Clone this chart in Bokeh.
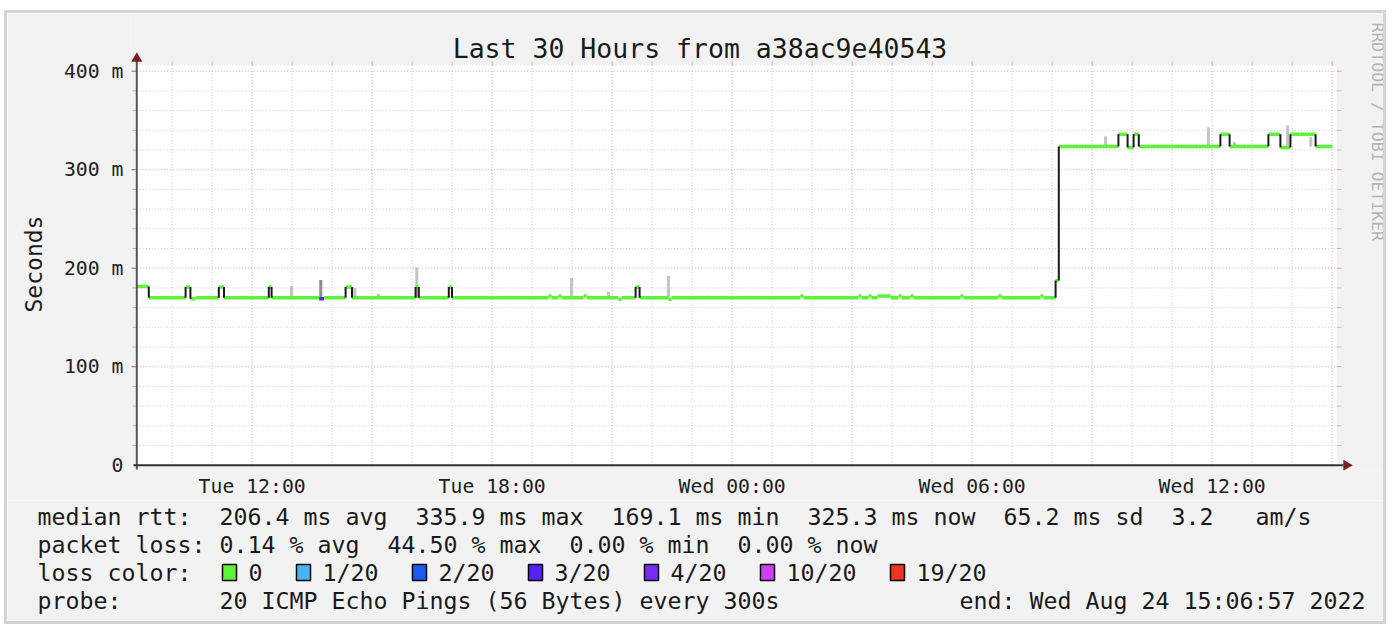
import math
import re
import numpy as np
from bokeh.plotting import figure
from bokeh.layouts import column
from bokeh.models import Range1d, FixedTicker, Title
from bokeh.core.properties import value
from bokeh.embed import file_html
from bokeh.resources import INLINE

# ---------------- data (hours since graph start 2022-08-23 09:06:57) ----------------
step_h = [0.00, 0.30, 1.22, 1.34, 1.47, 2.05, 2.18, 3.30, 3.37, 4.56, 4.68, 5.22, 5.38,
          6.97, 7.05, 7.80, 7.88, 10.29, 10.37, 10.54, 10.62, 11.17, 11.25, 12.04, 12.12,
          12.47, 12.57, 13.29, 13.37, 16.59, 16.67, 18.04, 18.12, 18.29, 18.37, 18.52, 18.85,
          19.04, 19.12, 19.34, 19.42, 20.59, 20.67, 21.54, 21.62, 22.59, 22.67, 22.97, 23.05,
          24.54, 24.77, 24.92, 25.05, 27.09, 27.32, 28.29, 28.59, 28.84, 29.47]
median_ms = [181.5, 170, 181, 169, 170, 181, 170, 181, 170, 169, 170, 181, 170,
             181, 170, 181, 170, 171.8, 170, 171.8, 170, 171.8, 170, 168.5, 170,
             181, 170, 168.5, 170, 171.8, 170, 171.8, 170, 171.8, 170, 171.8, 170,
             171.8, 170, 171.8, 170, 171.8, 170, 171.8, 170, 171.8, 170, 187.5, 323.6,
             336, 322.5, 336, 323.6, 336, 323.6, 336, 322.5, 336, 323.6]
loss_n = [0] * len(median_ms)
loss_n[9] = 3
end_h = 29.89

smoke_h = [3.87, 4.60, 5.45, 6.04, 7.00, 10.87, 11.79, 13.29, 14.29, 24.22, 26.79, 27.44, 28.77, 29.35]
smoke_lo = [170, 170, 170, 170, 170, 170, 170, 170, 170, 323.6, 323.6, 323.6, 323.6, 323.6]
smoke_hi = [182, 188, 180, 174, 201, 190, 176, 192, 172, 334, 343, 328, 345, 333]

y_top_ms = 405.8
graph_h = 30.0
y_ticks = [0, 100, 200, 300, 400]
y_tick_labels = ["0", "100 m", "200 m", "300 m", "400 m"]
x_ticks = [2.8842, 8.8842, 14.8842, 20.8842, 26.8842]
x_tick_labels = ["Tue 12:00", "Tue 18:00", "Wed 00:00", "Wed 06:00", "Wed 12:00"]
first_hour_h = 0.8842
first_hour_of_day = 10

rtt_avg, rtt_max, rtt_min, rtt_now, rtt_sd, am_s = 206.4, 335.9, 169.1, 325.3, 65.2, 3.2
loss_avg, loss_max, loss_min, loss_now = 0.14, 44.50, 0.00, 0.00
loss_labels = ["0", "1/20", "2/20", "3/20", "4/20", "10/20", "19/20"]
loss_colors = ["#5ef238", "#48b4f4", "#1c5cf2", "#5424f2", "#7a2cf2", "#d040f2", "#ee3322"]
loss_key = {0: 0, 1: 1, 2: 2, 3: 3, 4: 4, 10: 5, 19: 6}
probe_text = "20 ICMP Echo Pings (56 Bytes) every 300s"
end_text = "end: Wed Aug 24 15:06:57 2022"
title_text = "Last 30 Hours from a38ac9e40543"

# ---------------- layout helpers (page pixel -> data of the graph figure) ----------------
PX0, PXH, PY0, PYM = 136.3, 40.0, 464.7, 0.985
def dx(px):
    return (px - PX0) / PXH
def dy(py):
    return (PY0 - py) / PYM

MONO = "DejaVu Sans Mono"
BG = "#f2f2f2"
BORDER = "3px solid #d4d4d4"
TXT = "#1a1a1a"
CW = 14.0  # legend character cell width

# ================= graph figure =================
p = figure(width=1382, height=490, output_backend="svg", toolbar_location=None,
           x_range=Range1d(dx(130), dx(1389)), y_range=Range1d(dy(470), dy(13)),
           min_border_left=123, min_border_right=0, min_border_top=0, min_border_bottom=33,
           background_fill_color=BG, border_fill_color=BG, frame_align=False)
p.styles = {"border": BORDER, "border-bottom": "none"}
p.outline_line_color = None
p.xgrid.visible = False
p.ygrid.visible = False

for ax in (p.xaxis[0], p.yaxis[0]):
    ax.axis_line_color = None
    ax.major_tick_line_color = None
    ax.minor_tick_line_color = None
    ax.major_tick_out = 0
    ax.major_tick_in = 0
    ax.minor_tick_out = 0
    ax.major_label_text_font = MONO
    ax.major_label_text_font_size = "19.8px"
    ax.major_label_text_color = "#222222"
p.yaxis[0].ticker = FixedTicker(ticks=y_ticks)
p.yaxis[0].major_label_overrides = {t: l for t, l in zip(y_ticks, y_tick_labels)}
p.yaxis[0].major_label_standoff = 7
p.xaxis[0].ticker = FixedTicker(ticks=x_ticks)
p.xaxis[0].major_label_overrides = {t: l for t, l in zip(x_ticks, x_tick_labels)}
p.xaxis[0].major_label_standoff = 4

p.add_layout(Title(text="Seconds", align="left", offset=158, standoff=24, vertical_align="top",
                   text_font=MONO, text_font_size="23px", text_font_style="normal",
                   text_color=TXT), "left")

# white graph area
p.quad(left=0, right=graph_h, bottom=0, top=y_top_ms, fill_color="white", line_color=None)

# grid
GRID_MINOR = "#cdcdcd"
GRID_MAJOR = "#eaa2a2"
hours = [first_hour_h + k for k in range(int(graph_h)) if first_hour_h + k <= graph_h]
vmaj = [h for k, h in enumerate(hours) if (first_hour_of_day + k) % 3 == 0]
vmin = [h for k, h in enumerate(hours) if (first_hour_of_day + k) % 3 != 0]
hvals = list(range(20, 401, 20))
hmaj = [v for v in hvals if v % 100 == 0]
hmin = [v for v in hvals if v % 100 != 0]

p.segment(x0=vmin, x1=vmin, y0=0, y1=y_top_ms, line_color=GRID_MINOR, line_dash="1 2", line_width=1)
p.segment(x0=0, x1=graph_h, y0=hmin, y1=hmin, line_color=GRID_MINOR, line_dash="1 2", line_width=1)
p.segment(x0=vmaj, x1=vmaj, y0=0, y1=y_top_ms, line_color=GRID_MAJOR, line_dash="1 2", line_width=1)
p.segment(x0=0, x1=graph_h, y0=hmaj, y1=hmaj, line_color=GRID_MAJOR, line_dash="1 2", line_width=1)
p.segment(x0=vmin, x1=vmin, y0=y_top_ms, y1=dy(61), line_color="#c0c0c0", line_width=1)
p.segment(x0=vmaj, x1=vmaj, y0=y_top_ms, y1=dy(61), line_color="#e09a9a", line_width=1)
p.segment(x0=dx(132), x1=0, y0=hmin, y1=hmin, line_color="#b0b0b0", line_width=1)
p.segment(x0=dx(131), x1=0, y0=hmaj, y1=hmaj, line_color="#c05050", line_width=1)
p.segment(x0=graph_h, x1=dx(1341), y0=hmin, y1=hmin, line_color="#c0c0c0", line_width=1)
p.segment(x0=graph_h, x1=dx(1341), y0=hmaj, y1=hmaj, line_color="#e09a9a", line_width=1)

# smoke
smoke_col = ["#8c8c8c" if i == 1 else "#c4c4c4" for i in range(len(smoke_h))]
p.segment(x0=smoke_h, x1=smoke_h, y0=smoke_lo, y1=smoke_hi, line_color=smoke_col, line_width=3)

# median line
h = np.array(step_h + [end_h])
v = np.array(median_ms, dtype=float)
cols = [loss_colors[loss_key[n]] for n in loss_n]
vx, vy0, vy1 = [], [], []
for i in range(len(v) - 1):
    if abs(v[i + 1] - v[i]) > 4:
        vx.append(h[i + 1]); vy0.append(v[i]); vy1.append(v[i + 1])
p.segment(x0=h[:-1], x1=h[1:], y0=v, y1=v, line_color=cols, line_width=3.5)
p.segment(x0=vx, x1=vx, y0=vy0, y1=vy1, line_color="#1a1a1a", line_width=2)

# axis lines + arrows
p.segment(x0=[0], x1=[0], y0=[dy(469)], y1=[dy(60)], line_color="#555555", line_width=2)
p.segment(x0=[dx(133)], x1=[dx(1343)], y0=[0], y1=[0], line_color="#333333", line_width=2)
p.scatter(x=[0], y=[dy(58)], marker="triangle", size=11, fill_color="#7a1f1f", line_color=None)
p.scatter(x=[dx(1346)], y=[0], marker="triangle", size=11, angle=-math.pi / 2,
          fill_color="#7a1f1f", line_color=None)

# title and watermark
p.text(x=[dx(699.5)], y=[dy(48)], text=[title_text], text_font=value(MONO),
       text_font_size="26.5px", text_align="center", text_baseline="middle", text_color=TXT)
p.text(x=[dx(1377)], y=[dy(22)], text=["RRDTOOL / TOBI OETIKER"], text_font=value(MONO),
       text_font_size="16.5px", text_align="left", text_baseline="middle",
       text_color="#b4b4b4", angle=-math.pi / 2)

# ================= legend figure (page pixel coordinates) =================
q = figure(width=1382, height=124, output_backend="svg", toolbar_location=None,
           x_range=Range1d(7, 1389), y_range=Range1d(627, 503),
           x_axis_location=None, y_axis_location=None,
           min_border_left=0, min_border_right=0, min_border_top=0, min_border_bottom=0,
           background_fill_color=BG, border_fill_color=BG, frame_align=False)
q.styles = {"border": BORDER, "border-top": "none"}
q.outline_line_color = None
q.xgrid.visible = False
q.ygrid.visible = False

row1 = (f"median rtt:  {rtt_avg:.1f} ms avg  {rtt_max:.1f} ms max  {rtt_min:.1f} ms min  "
        f"{rtt_now:.1f} ms now  {rtt_sd:.1f} ms sd  {am_s:.1f}   am/s")
row2 = (f"packet loss: {loss_avg:.2f} % avg  {loss_max:.2f} % max  {loss_min:.2f} % min  "
        f"{loss_now:.2f} % now")
row4 = "probe:       " + probe_text

tx, ty, tt, ta = [], [], [], []
def add_row(s, x0, y):
    # split on runs of 2+ spaces; place each piece on the monospaced grid
    for m in re.finditer(r"\S+(?: \S+)*", s):
        tx.append(x0 + m.start() * CW); ty.append(y); tt.append(m.group()); ta.append("left")

add_row(row1, 37, 519)
add_row(row2, 37, 547)
add_row("loss color:", 37, 575)
add_row(row4, 37, 603)
tx.append(1365); ty.append(603); tt.append(end_text); ta.append("right")

sq_x = []
sx = 222.0
for lbl in loss_labels:
    sq_x.append(sx)
    tx.append(sx + 26); ty.append(575); tt.append(lbl); ta.append("left")
    sx = sx + 26 + len(lbl) * CW + 34

q.text(x=tx, y=ty, text=tt, text_align=ta, text_font=value(MONO), text_font_size="23.25px",
       text_baseline="middle", text_color=TXT)
q.quad(left=sq_x, right=[s + 14 for s in sq_x], top=[567] * len(sq_x), bottom=[583] * len(sq_x),
       fill_color=loss_colors, line_color="black", line_width=1.5)

layout = column(p, q, spacing=0, styles={"margin-left": "4px", "margin-top": "10px"})
open("out.html", "w").write(file_html(layout, INLINE))
